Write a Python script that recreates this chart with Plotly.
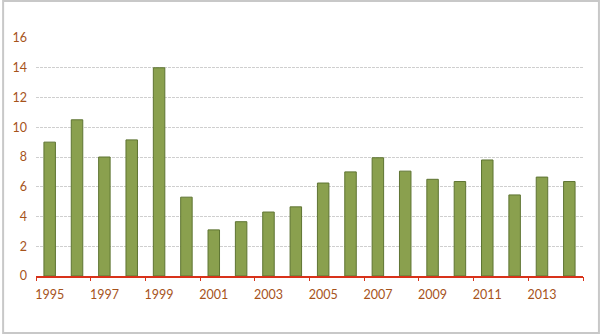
import plotly.graph_objects as go

years = list(range(1995, 2015))
values = [9.0, 10.5, 8.0, 9.15, 14.0, 5.3, 3.1, 3.65, 4.3, 4.65,
          6.25, 7.0, 7.95, 7.05, 6.5, 6.35, 7.8, 5.45, 6.65, 6.35]
x_labels = [str(y) for y in years[::2]]
y_ticks = [0, 2, 4, 6, 8, 10, 12, 14, 16]

W, H = 600, 334
ML, MR, MT, MB = 34, 17, 38, 58
label_color = "#A6531B"
font_family = "Lato, 'Open Sans', sans-serif"

fig = go.Figure()
fig.add_trace(go.Bar(
    x=years, y=values,
    marker=dict(color="#8AA04E", line=dict(color="#5E7432", width=1)),
    width=0.42, xaxis="x", yaxis="y",
))
# invisible trace for boundary ticks axis
fig.add_trace(go.Scatter(x=[years[0]], y=[0], mode="markers",
                         marker=dict(opacity=0), xaxis="x2", yaxis="y",
                         showlegend=False, hoverinfo="skip"))

lo, hi = years[0] - 0.5, years[-1] + 0.5
fig.update_layout(
    width=W, height=H,
    margin=dict(l=ML, r=MR, t=MT, b=MB),
    paper_bgcolor="white", plot_bgcolor="white",
    showlegend=False,
    font=dict(family=font_family, size=12, color=label_color),
    xaxis=dict(
        range=[lo, hi], tickmode="array", tickvals=years[::2], ticktext=x_labels,
        ticks="", showgrid=False, zeroline=False,
        showline=True, linecolor="#D8321A", linewidth=1.5,
        tickfont=dict(size=12.5, color=label_color), ticklabelstandoff=6,
    ),
    xaxis2=dict(
        range=[lo, hi], overlaying="x", side="bottom",
        tickmode="array", tickvals=[y - 0.5 for y in years[::2]] + [hi],
        ticks="outside", ticklen=4, tickcolor="#D8321A", tickwidth=1,
        showticklabels=False, showgrid=False, zeroline=False, showline=False,
    ),
    yaxis=dict(
        range=[0, 16], tickmode="array", tickvals=y_ticks,
        showgrid=True, gridcolor="#CFCFCF", gridwidth=1, griddash="3px,1px",
        zeroline=False, ticks="", ticklabelstandoff=8,
        tickfont=dict(size=12.5, color=label_color),
    ),
    shapes=[dict(
        type="rect", xref="paper", yref="paper",
        x0=-(ML - 1) / (W - ML - MR), x1=1 + (MR - 1) / (W - ML - MR),
        y0=-(MB - 1) / (H - MT - MB), y1=1 + (MT - 1) / (H - MT - MB),
        line=dict(color="#C8C8C8", width=2), layer="below",
    )],
)

fig.write_html("out.html")
